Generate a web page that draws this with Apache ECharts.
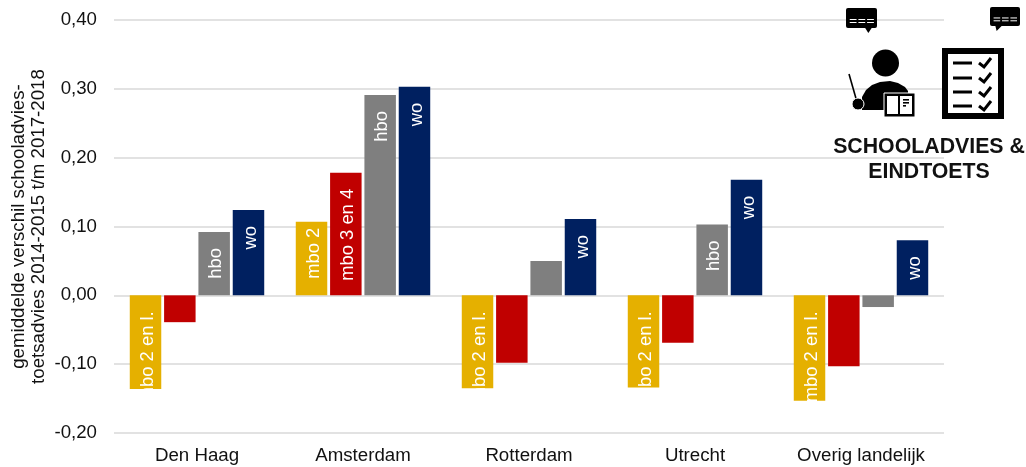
<!DOCTYPE html>
<html><head><meta charset="utf-8">
<style>html,body{margin:0;padding:0;background:#fff}#c{width:1026px;height:467px}</style>
<script src="https://cdn.jsdelivr.net/npm/echarts@6/dist/echarts.min.js"></script></head>
<body><div id="c"></div>
<script>
const categories = ['Den Haag','Amsterdam','Rotterdam','Utrecht','Overig landelijk'];
const tickMin = -0.2, tickMax = 0.4, tickStep = 0.1;
const yTitle = 'gemiddelde verschil schooladvies-\ntoetsadvies 2014-2015 t/m 2017-2018';
const mbo2 = [-0.136, 0.107, -0.135, -0.134, -0.153];
const mbo34 = [-0.039, 0.178, -0.098, -0.069, -0.103];
const hbo = [0.092, 0.291, 0.050, 0.103, -0.017];
const wo = [0.124, 0.303, 0.111, 0.168, 0.080];
const mbo2Labels = ['mbo 2 en l.', 'mbo 2', 'mbo 2 en l.', 'mbo 2 en l.', 'mbo 2 en l.'];
const mbo34Labels = ['', 'mbo 3 en 4', '', '', ''];
const hboLabels = ['hbo', 'hbo', '', 'hbo', ''];
const woLabels = ['wo', 'wo', 'wo', 'wo', 'wo'];
const colors = ['#E5B000', '#C00000', '#7F7F7F', '#002060'];
const font = '"Liberation Sans", Arial, sans-serif';

function items(values, labels) {
  return values.map((v, i) => ({
    value: v,
    label: {
      show: !!labels[i],
      formatter: labels[i],
      position: 'insideTop',
      rotate: 90,
      align: 'right',
      verticalAlign: 'middle',
      distance: labels[i] === 'mbo 2' ? 6 : 16,
      offset: [0, 2],
      color: '#fff',
      fontFamily: font,
      fontSize: 18.4
    }
  }));
}
function bar(name, values, labels, color) {
  return { name, type: 'bar', data: items(values, labels), barGap: '9%', barCategoryGap: '19%',
           itemStyle: { color }, silent: true };
}
const chart = echarts.init(document.getElementById('c'), null, { renderer: 'canvas' });
const black = { style: { fill: '#000' } };
const graphics = [];
function bubble(x, y, w, h, t0, t1, t2) {
  graphics.push({ type: 'rect', shape: { x, y, width: w, height: h, r: 2 }, ...black, z: 10 });
  graphics.push({ type: 'polygon', shape: { points: [[x + w * t0, y + h - 1], [x + w * t1, y + h - 1], [x + w * t2, y + h + 5]] }, ...black, z: 10 });
  [0.12, 0.4, 0.68].forEach(f => {
    graphics.push({ type: 'rect', shape: { x: x + w * f, y: y + h * 0.55, width: w * 0.22, height: 1 }, style: { fill: '#fff' }, z: 11 });
    graphics.push({ type: 'rect', shape: { x: x + w * f, y: y + h * 0.7, width: w * 0.22, height: 1 }, style: { fill: '#fff' }, z: 11 });
  });
}
bubble(846, 8, 31, 20, 0.6, 0.85, 0.72);
bubble(990, 7, 30, 19, 0.17, 0.42, 0.22);
// teacher
graphics.push({ type: 'circle', shape: { cx: 885.5, cy: 63, r: 13.5 }, ...black, z: 10 });
graphics.push({ type: 'polygon', shape: { points: [[862, 110], [862, 97], [866, 90], [872, 85], [880, 82], [890, 81], [898, 83], [905, 87], [908, 91], [908, 110]] }, ...black, z: 10 });
graphics.push({ type: 'line', shape: { x1: 849, y1: 74, x2: 857, y2: 102 }, style: { stroke: '#000', lineWidth: 1.6 }, z: 10 });
graphics.push({ type: 'circle', shape: { cx: 858, cy: 104, r: 6 }, style: { fill: '#000', stroke: '#fff', lineWidth: 1 }, z: 11 });
// book
graphics.push({ type: 'rect', shape: { x: 884, y: 93, width: 31, height: 24 }, style: { fill: '#000', stroke: '#fff', lineWidth: 1 }, z: 11 });
graphics.push({ type: 'rect', shape: { x: 887, y: 96, width: 11, height: 18 }, style: { fill: '#fff' }, z: 12 });
graphics.push({ type: 'rect', shape: { x: 900, y: 96, width: 12, height: 18 }, style: { fill: '#fff' }, z: 12 });
[99, 102, 105].forEach((y, i) => graphics.push({ type: 'rect', shape: { x: 903, y, width: i === 2 ? 3 : 6, height: 1.6 }, ...black, z: 13 }));
// checklist
graphics.push({ type: 'rect', shape: { x: 945, y: 51, width: 56, height: 65 }, style: { fill: '#fff', stroke: '#000', lineWidth: 6 }, z: 10 });
[63, 78, 92, 106].forEach(y => {
  graphics.push({ type: 'rect', shape: { x: 953, y: y - 1.5, width: 19, height: 3 }, ...black, z: 11 });
  graphics.push({ type: 'polyline', shape: { points: [[979, y], [984, y + 4], [991, y - 5]] }, style: { stroke: '#000', fill: null, lineWidth: 3 }, z: 11 });
});
graphics.push({ type: 'text', x: 929, y: 147, style: { text: 'SCHOOLADVIES &', fontFamily: font, fontWeight: 'bold', fontSize: 21.3, fill: '#111', textAlign: 'center', textVerticalAlign: 'middle' }, z: 10 });
graphics.push({ type: 'text', x: 929, y: 172, style: { text: 'EINDTOETS', fontFamily: font, fontWeight: 'bold', fontSize: 21.3, fill: '#111', textAlign: 'center', textVerticalAlign: 'middle' }, z: 10 });

chart.setOption({
  animation: false,
  backgroundColor: '#fff',
  grid: { left: 114, right: 82, top: 20, bottom: 34, containLabel: false, outerBoundsMode: 'none' },
  xAxis: {
    type: 'category', data: categories, position: 'bottom',
    axisLine: { show: false }, axisTick: { show: false },
    axisLabel: { interval: 0, color: '#111', fontFamily: font, fontSize: 18.7, margin: 13 }
  },
  yAxis: {
    type: 'value', min: tickMin, max: tickMax, interval: tickStep,
    name: yTitle, nameLocation: 'middle', nameGap: 65, nameRotate: 90, nameMoveOverlap: false,
    nameTextStyle: { color: '#111', fontFamily: font, fontSize: 18.7, lineHeight: 20 },
    axisLine: { show: false }, axisTick: { show: false },
    axisLabel: { color: '#111', fontFamily: font, fontSize: 18.7, margin: 17, padding: [3, 0, 0, 0],
      formatter: v => v.toFixed(2).replace('.', ',') },
    splitLine: { lineStyle: { color: '#D9D9D9', width: 1.5 } }
  },
  series: [
    bar('mbo 2 (en lager)', mbo2, mbo2Labels, colors[0]),
    bar('mbo 3 en 4', mbo34, mbo34Labels, colors[1]),
    bar('hbo', hbo, hboLabels, colors[2]),
    bar('wo', wo, woLabels, colors[3])
  ],
  graphic: graphics
});
</script></body></html>
